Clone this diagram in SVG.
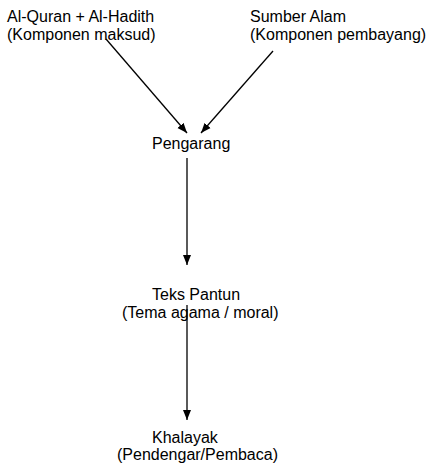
<svg xmlns="http://www.w3.org/2000/svg" width="428" height="464" viewBox="0 0 428 464">
<defs>
<style>
text{font-family:"Liberation Sans",Arial,sans-serif;font-size:16px;fill:#000}
.c{stroke:#000;stroke-width:1.3;fill:none}
</style>
<marker id="ah" markerUnits="userSpaceOnUse" markerWidth="10" markerHeight="10" viewBox="0 0 10 10" refX="10" refY="5" orient="auto">
<path d="M0,1 L10,5 L0,9 Z" fill="#000"/>
</marker>
</defs>
<rect width="428" height="464" fill="#fff"/>
<g id="connectors">
<line class="c" x1="106" y1="39" x2="187" y2="133" marker-end="url(#ah)"/>
<line class="c" x1="273" y1="51" x2="201" y2="133" marker-end="url(#ah)"/>
<line class="c" x1="187" y1="158" x2="187" y2="265" marker-end="url(#ah)"/>
<line class="c" x1="187" y1="305" x2="187" y2="420" marker-end="url(#ah)"/>
</g>
<g id="quran">
<text x="7" y="22">Al-Quran + Al-Hadith</text>
<text x="7" y="40">(Komponen maksud)</text>
</g>
<g id="alam">
<text x="250" y="22">Sumber Alam</text>
<text x="250" y="40">(Komponen pembayang)</text>
</g>
<g id="pengarang">
<text x="152" y="149">Pengarang</text>
</g>
<g id="teks">
<text x="152" y="300">Teks Pantun</text>
<text x="122" y="318">(Tema agama / moral)</text>
</g>
<g id="khalayak">
<text x="152" y="443">Khalayak</text>
<text x="117" y="460">(Pendengar/Pembaca)</text>
</g>
</svg>
